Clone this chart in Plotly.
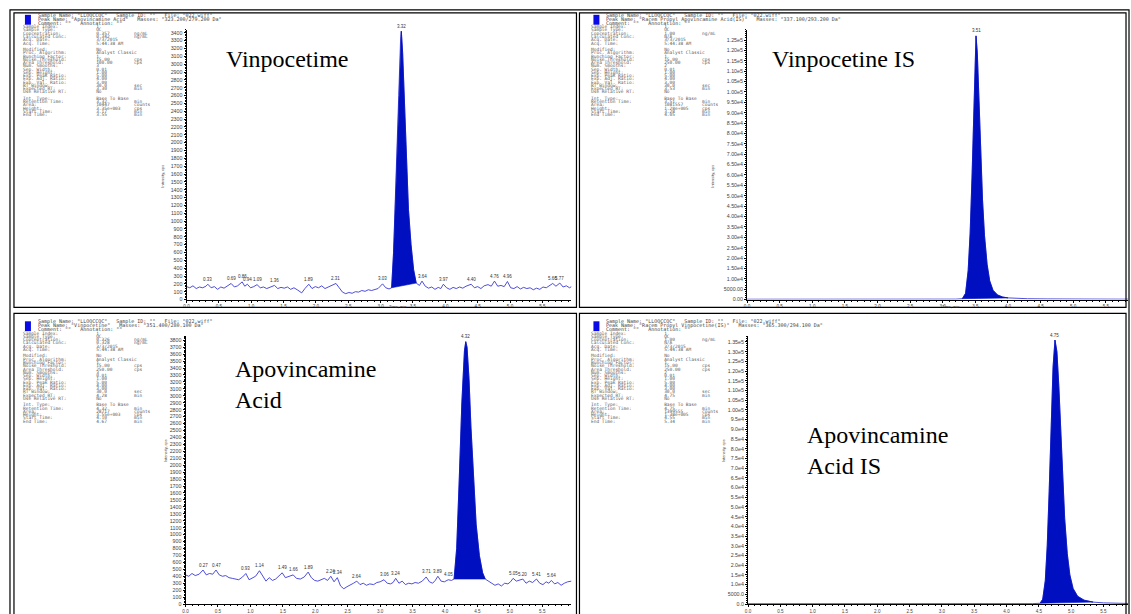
import plotly.graph_objects as go

W, H = 1131, 614

# ---------------- data ----------------
# Top-left: Vinpocetime (XIC, cps vs min)
TL_time = [0.00, 0.05, 0.10, 0.15, 0.20, 0.25, 0.30, 0.33, 0.38, 0.43, 0.48, 0.53, 0.58, 0.63, 0.69, 0.74,
           0.79, 0.86, 0.90, 0.94, 0.99, 1.04, 1.09, 1.14, 1.19, 1.24, 1.30, 1.36, 1.41, 1.46, 1.51, 1.56,
           1.61, 1.66, 1.72, 1.78, 1.83, 1.89, 1.94, 1.99, 2.04, 2.09, 2.14, 2.19, 2.24, 2.31, 2.36, 2.41,
           2.46, 2.51, 2.56, 2.61, 2.66, 2.71, 2.76, 2.81, 2.86, 2.91, 2.96, 3.03, 3.08, 3.13, 3.17, 3.20,
           3.24, 3.28, 3.31, 3.32, 3.34, 3.37, 3.40, 3.43, 3.47, 3.51, 3.55, 3.60, 3.64, 3.69, 3.74, 3.79,
           3.84, 3.89, 3.93, 3.97, 4.02, 4.07, 4.12, 4.17, 4.22, 4.27, 4.32, 4.40, 4.45, 4.50, 4.55, 4.60,
           4.66, 4.71, 4.76, 4.81, 4.86, 4.91, 4.96, 5.01, 5.06, 5.11, 5.16, 5.21, 5.26, 5.31, 5.36, 5.41,
           5.46, 5.51, 5.56, 5.61, 5.66, 5.71, 5.77, 5.82, 5.87, 5.92, 5.95]
TL_int = [165, 150, 175, 140, 160, 150, 170, 195, 150, 165, 130, 160, 145, 175, 205, 160,
          175, 225, 170, 195, 150, 165, 190, 150, 160, 140, 165, 180, 140, 155, 145, 160,
          130, 150, 120, 85, 140, 195, 140, 165, 150, 175, 140, 160, 170, 205, 150, 95,
          75, 90, 80, 100, 95, 115, 105, 125, 115, 130, 140, 200, 150, 135, 150, 600,
          1500, 2600, 3350, 3420, 3150, 2450, 1750, 1150, 700, 380, 210, 180, 235, 170, 145, 160,
          130, 155, 140, 195, 150, 130, 155, 140, 160, 145, 170, 195, 150, 165, 140, 175,
          190, 170, 235, 170, 180, 165, 230, 150, 140, 165, 135, 155, 140, 150, 125, 145,
          130, 160, 150, 180, 205, 170, 210, 160, 175, 150, 165]
TL_labels = [0.33, 0.69, 0.86, 0.94, 1.09, 1.36, 1.89, 2.31, 3.03, 3.32, 3.64, 3.97, 4.40, 4.76, 4.96, 5.66, 5.77]
TL_peak = (3.17, 3.55)

# Top-right: Vinpocetine IS
TR_time = [0.00, 0.50, 1.00, 1.50, 2.00, 2.50, 3.00, 3.20, 3.30, 3.35, 3.39, 3.42, 3.45, 3.48, 3.50, 3.51,
           3.53, 3.55, 3.58, 3.61, 3.64, 3.68, 3.72, 3.77, 3.84, 3.92, 4.00, 4.10, 4.30, 4.60, 5.00, 5.50, 5.84]
TR_int = [150, 120, 180, 140, 160, 130, 170, 200, 400, 3000, 14000, 32000, 60000, 98000, 122000, 127000,
          119000, 100000, 72000, 48000, 31000, 17000, 9000, 4500, 2200, 1200, 800, 600, 400, 300, 200, 180, 170]
TR_labels = [3.51]
TR_peak = (3.30, 4.00)

# Bottom-left: Apovincamine Acid
BL_time = [0.00, 0.05, 0.10, 0.15, 0.21, 0.27, 0.32, 0.37, 0.42, 0.47, 0.52, 0.57, 0.62, 0.67, 0.72, 0.77,
           0.82, 0.88, 0.93, 0.98, 1.03, 1.08, 1.14, 1.19, 1.24, 1.29, 1.34, 1.39, 1.44, 1.49, 1.54, 1.60,
           1.66, 1.71, 1.77, 1.83, 1.89, 1.94, 1.99, 2.04, 2.09, 2.14, 2.19, 2.24, 2.29, 2.34, 2.39, 2.44,
           2.49, 2.54, 2.59, 2.64, 2.69, 2.74, 2.79, 2.84, 2.90, 2.95, 3.00, 3.06, 3.11, 3.16, 3.20, 3.24,
           3.29, 3.34, 3.39, 3.44, 3.49, 3.54, 3.59, 3.65, 3.71, 3.76, 3.81, 3.85, 3.89, 3.94, 3.99, 4.05,
           4.10, 4.14, 4.18, 4.22, 4.26, 4.30, 4.32, 4.34, 4.37, 4.40, 4.44, 4.48, 4.53, 4.58, 4.62, 4.67,
           4.72, 4.77, 4.82, 4.87, 4.92, 4.97, 5.01, 5.05, 5.10, 5.15, 5.20, 5.25, 5.30, 5.35, 5.41, 5.46,
           5.51, 5.56, 5.60, 5.64, 5.69, 5.74, 5.79, 5.84, 5.89, 5.95]
BL_int = [420, 400, 440, 410, 430, 490, 420, 440, 430, 490, 420, 400, 410, 380, 370, 360,
          350, 390, 440, 350, 370, 400, 480, 400, 330, 380, 340, 360, 400, 450, 380, 400,
          420, 370, 360, 390, 460, 380, 340, 330, 350, 370, 340, 400, 320, 380, 260, 220,
          250, 270, 300, 330, 280, 300, 270, 290, 280, 310, 320, 350, 300, 290, 310, 370,
          300, 330, 280, 300, 290, 310, 300, 330, 390, 320, 300, 340, 400, 330, 320, 350,
          340, 360, 800, 1800, 2900, 3650, 3780, 3700, 3250, 2550, 1750, 1150, 700, 450, 360, 330,
          300, 270, 290, 260, 300, 290, 320, 370, 330, 340, 360, 300, 330, 310, 360, 300,
          280, 320, 300, 340, 290, 310, 270, 300, 320, 330]
BL_labels = [0.27, 0.47, 0.93, 1.14, 1.49, 1.66, 1.89, 2.24, 2.34, 2.64, 3.06, 3.24, 3.71, 3.89, 4.05,
             4.32, 5.05, 5.20, 5.41, 5.64]
BL_peak = (4.14, 4.62)

# Bottom-right: Apovincamine Acid IS
BR_time = [0.00, 0.50, 1.00, 1.50, 2.00, 2.50, 3.00, 3.50, 4.00, 4.40, 4.52, 4.56, 4.60, 4.63, 4.66, 4.69,
           4.72, 4.75, 4.78, 4.81, 4.84, 4.87, 4.90, 4.94, 4.98, 5.03, 5.10, 5.20, 5.34, 5.50, 5.70, 5.88]
BR_int = [150, 130, 170, 140, 160, 150, 170, 160, 180, 200, 400, 2500, 12000, 30000, 58000, 92000,
          122000, 136000, 130000, 112000, 88000, 64000, 44000, 26000, 15000, 8000, 4000, 2000, 1000, 600, 400, 300]
BR_labels = [4.75]
BR_peak = (4.52, 5.34)

TITLES = ["Vinpocetime", "Vinpocetine IS", "Apovincamine<br>Acid", "Apovincamine<br>Acid IS"]

HEADERS = [
    ['Sample Name: "LLOQCCQC"   Sample ID: ""   File: "022.wiff"',
     'Peak Name: "Apovincamine Acid"   Masses: "323.200/279.200 Da"',
     'Comment: ""   Annotation: ""'],
    ['Sample Name: "LLOQCCQC"   Sample ID: ""   File: "022.wiff"',
     'Peak Name: "Racem Propyl Apovincamine Acid(IS)"   Masses: "337.100/293.200 Da"',
     'Comment: ""   Annotation: ""'],
    ['Sample Name: "LLOQCCQC"   Sample ID: ""   File: "022.wiff"',
     'Peak Name: "Vinpocetine"   Masses: "351.400/280.100 Da"',
     'Comment: ""   Annotation: ""'],
    ['Sample Name: "LLOQCCQC"   Sample ID: ""   File: "022.wiff"',
     'Peak Name: "Racem Propyl Vinpocetine(IS)"   Masses: "365.300/294.100 Da"',
     'Comment: ""   Annotation: ""'],
]

INFO_VALUES = [
    dict(conc="0.357", calc="0.342", calc_u="ng/mL", area_th="100.00", smooth="3", exp_rt="3.30",
         rt="3.32", area="10447", height="3.35e+003", start="3.17", end="3.55"),
    dict(conc="1.00", calc="N/A", calc_u="", area_th="250.00", smooth="2", exp_rt="3.53",
         rt="3.51", area="1081557", height="1.28e+005", start="3.28", end="4.05"),
    dict(conc="0.326", calc="0.328", calc_u="ng/mL", area_th="250.00", smooth="3", exp_rt="4.28",
         rt="4.32", area="28717", height="3.55e+003", start="4.10", end="4.67"),
    dict(conc="1.00", calc="N/A", calc_u="", area_th="250.00", smooth="2", exp_rt="4.75",
         rt="4.75", area="1399555", height="1.38e+005", start="4.55", end="5.34"),
]

TR_ticks = [i * 5000 for i in range(26)]
BR_ticks = [i * 5000 for i in range(28)]


def sci_label(v, dec):
    if v == 0:
        return "0." + "0" * dec
    if v < 10000:
        return f"{v:.{dec}f}"
    e = len(str(int(v))) - 1
    d = dec if e < 5 else 2
    return f"{v / 10**e:.{d}f}e{e}"


TR_ticktext = [sci_label(v, 2) for v in TR_ticks]
BR_ticktext = [sci_label(v, 1) for v in BR_ticks]

# ---------------- layout helpers ----------------
def PX(x):
    return x / W


def PY(y):
    return 1 - y / H


panels = [
    dict(t=TL_time, v=TL_int, labels=TL_labels, peak=TL_peak, xd=(184, 570), yd=(30, 303),
         xr=5.95, yr=3440, ytick=dict(dtick=100, tick0=0, tickformat="d"), yminor=20,
         off=(0, 0), title_xy=(222, 60), ylab_xy=(156, 165), xlab_xy=(396, 310.5)),
    dict(t=TR_time, v=TR_int, labels=TR_labels, peak=TR_peak, xd=(746, 1128), yd=(30, 303),
         xr=5.84, yr=130000, ytick=dict(tickmode="array", tickvals=TR_ticks, ticktext=TR_ticktext),
         yminor=1000, off=(570, 0), title_xy=(769, 60), ylab_xy=(712, 165), xlab_xy=(961, 310.5)),
    dict(t=BL_time, v=BL_int, labels=BL_labels, peak=BL_peak, xd=(183, 570), yd=(340, 611),
         xr=5.95, yr=3860, ytick=dict(dtick=100, tick0=0, tickformat="d"), yminor=20,
         off=(0, 310), title_xy=(231, 389), ylab_xy=(158, 470), xlab_xy=None),
    dict(t=BR_time, v=BR_int, labels=BR_labels, peak=BR_peak, xd=(747, 1128), yd=(340, 611),
         xr=5.88, yr=138000, ytick=dict(tickmode="array", tickvals=BR_ticks, ticktext=BR_ticktext),
         yminor=1000, off=(570, 310), title_xy=(804, 456), ylab_xy=(722, 470), xlab_xy=None),
]

LINE_COL = "#3a3ad8"
FILL_COL = "#0010c0"
TXT_COL = "#606060"

fig = go.Figure()
annotations = []
shapes = []

for i, p in enumerate(panels):
    k = "" if i == 0 else str(i + 1)
    xa, ya = "x" + k, "y" + k
    t, v = p["t"], p["v"]
    # chromatogram line
    fig.add_trace(go.Scatter(x=t, y=v, mode="lines", xaxis=xa, yaxis=ya,
                             line=dict(color=LINE_COL, width=0.9), hoverinfo="skip"))
    # integrated peak area (between curve and straight baseline)
    s, e = p["peak"]
    pt = [tt for tt in t if s - 1e-9 <= tt <= e + 1e-9]
    pv = [vv for tt, vv in zip(t, v) if s - 1e-9 <= tt <= e + 1e-9]
    fig.add_trace(go.Scatter(x=pt + [pt[0]], y=pv + [pv[0]], mode="lines", fill="toself",
                             fillcolor=FILL_COL, line=dict(color=FILL_COL, width=0.6),
                             xaxis=xa, yaxis=ya, hoverinfo="skip"))
    # axes
    xfont = dict(family="Liberation Sans", size=4.6, color="#444444")
    yfont = dict(family="Liberation Sans", size=5.3, color="#444444")
    fig.layout["xaxis" + k] = dict(
        domain=[PX(p["xd"][0]), PX(p["xd"][1])], range=[0, p["xr"]], anchor=ya,
        showline=True, linecolor="black", linewidth=1, ticks="outside", ticklen=2,
        tickwidth=0.8, tickcolor="black", dtick=0.5, tick0=0, tickformat=".1f",
        tickfont=xfont, showgrid=False, zeroline=False,
        minor=dict(dtick=0.1, ticks="outside", ticklen=1.2, tickcolor="black", showgrid=False))
    yax = dict(
        domain=[PY(p["yd"][1]), PY(p["yd"][0])], range=[0, p["yr"]], anchor=xa,
        showline=True, linecolor="black", linewidth=1, ticks="outside", ticklen=2,
        tickwidth=0.8, tickcolor="black", tickfont=yfont, showgrid=False, zeroline=False,
        minor=dict(dtick=p["yminor"], ticks="outside", ticklen=1.0, tickcolor="black", showgrid=False))
    yax.update(p["ytick"])
    fig.layout["yaxis" + k] = yax
    # peak labels
    for lt in p["labels"]:
        j = min(range(len(t)), key=lambda q: abs(t[q] - lt))
        annotations.append(dict(x=lt, y=v[j], xref=xa, yref=ya, text=f"{lt:.2f}", showarrow=False,
                                yanchor="bottom", yshift=0.5,
                                font=dict(family="Liberation Sans", size=4.5, color="#333333")))
    # big compound title
    tx, ty = p["title_xy"]
    annotations.append(dict(x=PX(tx), y=PY(ty), xref="paper", yref="paper", text=TITLES[i],
                            showarrow=False, xanchor="left", yanchor="middle", align="left",
                            font=dict(family="Liberation Serif", size=24, color="black")))
    # axis titles
    lx, ly = p["ylab_xy"]
    annotations.append(dict(x=PX(lx), y=PY(ly), xref="paper", yref="paper", text="Intensity, cps",
                            showarrow=False, textangle=-90,
                            font=dict(family="Liberation Sans", size=4, color="#444444")))
    if p["xlab_xy"]:
        lx, ly = p["xlab_xy"]
        annotations.append(dict(x=PX(lx), y=PY(ly), xref="paper", yref="paper", text="Time, min",
                                showarrow=False, font=dict(family="Liberation Sans", size=4,
                                                           color="#444444")))
    # header block
    ox, oy = p["off"]
    shapes.append(dict(type="rect", xref="paper", yref="paper", x0=PX(22 + ox), x1=PX(28 + ox),
                       y0=PY(25 + oy), y1=PY(15 + oy), fillcolor="#0a0ae6", line=dict(width=0)))
    for h, line in enumerate(HEADERS[i]):
        annotations.append(dict(x=PX(33 + ox), y=PY(15.5 + 3.8 * h + oy), xref="paper", yref="paper",
                                text=line, showarrow=False, xanchor="left", yanchor="middle",
                                font=dict(family="DejaVu Sans Mono", size=5, color="#444444")))
    d = INFO_VALUES[i]
    rows = [("Sample Index:", "1", ""), ("Sample Type:", "QC", ""),
            ("Concentration:", d["conc"], "ng/mL"), ("Calculated Conc:", d["calc"], d["calc_u"]),
            ("Acq. Date:", "3/3/2015", ""), ("Acq. Time:", "5:44:38 AM", ""), None,
            ("Modified:", "No", ""), ("Proc. Algorithm:", "Analyst Classic", ""),
            ("Bunching Factor:", "1", ""), ("Noise Threshold:", "15.00", "cps"),
            ("Area Threshold:", d["area_th"], "cps"), ("Num. Smooths:", d["smooth"], ""),
            ("Sep. Width:", "0.01", ""), ("Sep. Height:", "1.00", ""),
            ("Exp. Peak Ratio:", "5.00", ""), ("Exp. Adj. Ratio:", "4.00", ""),
            ("Exp. Val. Ratio:", "3.00", ""), ("RT Window:", "30.0", "sec"),
            ("Expected RT:", d["exp_rt"], "min"), ("Use Relative RT:", "No", ""), None,
            ("Int. Type:", "Base To Base", ""), ("Retention Time:", d["rt"], "min"),
            ("Area:", d["area"], "counts"), ("Height:", d["height"], "cps"),
            ("Start Time:", d["start"], "min"), ("End Time:", d["end"], "min")]
    for r, row in enumerate(rows):
        if row is None:
            continue
        txt = f"{row[0]:<27}{row[1]:<14}{row[2]}".replace(" ", "\u00a0")
        annotations.append(dict(x=PX(18 + ox), y=PY(27 + 3.3 * r + oy), xref="paper", yref="paper",
                                text=txt, showarrow=False, xanchor="left", yanchor="middle",
                                font=dict(family="DejaVu Sans Mono", size=4.5, color=TXT_COL)))

# table-like double frame
def rect(x0, y0, x1, y1, w):
    return dict(type="rect", xref="paper", yref="paper", x0=PX(x0), x1=PX(x1), y0=PY(y1), y1=PY(y0),
                line=dict(color="black", width=w), fillcolor="rgba(0,0,0,0)", layer="above")

shapes.append(rect(7, 10, 1129, 630, 1.2))
shapes.append(rect(11, 13, 575, 311, 1.2))
shapes.append(rect(578, 13, 1126, 311, 1.2))
shapes.append(rect(11, 317, 575, 630, 1.2))
shapes.append(rect(578, 317, 1126, 630, 1.2))

fig.update_layout(width=W, height=H, margin=dict(l=0, r=0, t=0, b=0), paper_bgcolor="white",
                  plot_bgcolor="white", showlegend=False, annotations=annotations, shapes=shapes)

# remove the default 8px page margin so the figure fills the window exactly; hide the mode bar
fig.write_html("out.html", config={"displayModeBar": False},
               post_script="document.body.style.margin='0px';")
